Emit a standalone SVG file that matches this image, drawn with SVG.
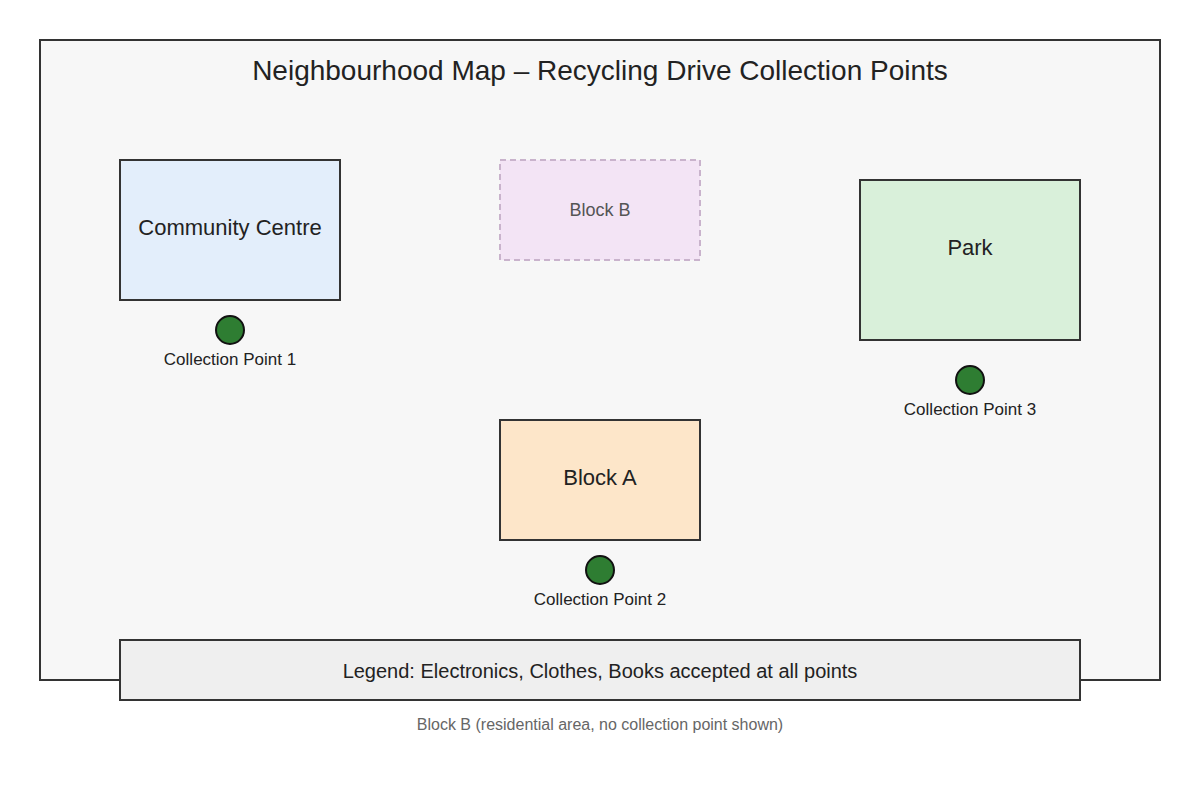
<svg xmlns="http://www.w3.org/2000/svg" width="1200" height="800" viewBox="0 0 1200 800">
<style>
text{font-family:"Liberation Sans",Arial,sans-serif;text-anchor:middle;fill:#222}
.b{stroke:#333;stroke-width:2}
.pt{fill:#2e7d32;stroke:#111;stroke-width:2}
.l{font-size:17px}
</style>
<rect width="1200" height="800" fill="#fff"/>
<rect x="40" y="40" width="1120" height="640" fill="#f7f7f7" class="b"/>
<text x="600" y="80" font-size="28">Neighbourhood Map – Recycling Drive Collection Points</text>
<g id="community"><rect x="120" y="160" width="220" height="140" fill="#e3eefb" class="b"/><text x="230" y="235" font-size="22">Community Centre</text></g>
<g id="blockB"><rect x="500" y="160" width="200" height="100" fill="#f3e4f5" stroke="#c9b3cc" stroke-width="2" stroke-dasharray="6,4"/><text x="600" y="216" font-size="18" style="fill:#555">Block B</text></g>
<g id="park"><rect x="860" y="180" width="220" height="160" fill="#d9f0da" class="b"/><text x="970" y="255" font-size="22">Park</text></g>
<g id="blockA"><rect x="500" y="420" width="200" height="120" fill="#fde6c9" class="b"/><text x="600" y="485" font-size="22">Block A</text></g>
<g id="cp1"><circle cx="230" cy="330" r="14" class="pt"/><text x="230" y="365" class="l">Collection Point 1</text></g>
<g id="cp2"><circle cx="600" cy="570" r="14" class="pt"/><text x="600" y="605" class="l">Collection Point 2</text></g>
<g id="cp3"><circle cx="970" cy="380" r="14" class="pt"/><text x="970" y="415" class="l">Collection Point 3</text></g>
<g id="legend"><rect x="120" y="640" width="960" height="60" fill="#efefef" class="b"/><text x="600" y="678" font-size="20">Legend: Electronics, Clothes, Books accepted at all points</text></g>
<g id="connectors"/>
<text x="600" y="730" font-size="16" style="fill:#666">Block B (residential area, no collection point shown)</text>
</svg>
